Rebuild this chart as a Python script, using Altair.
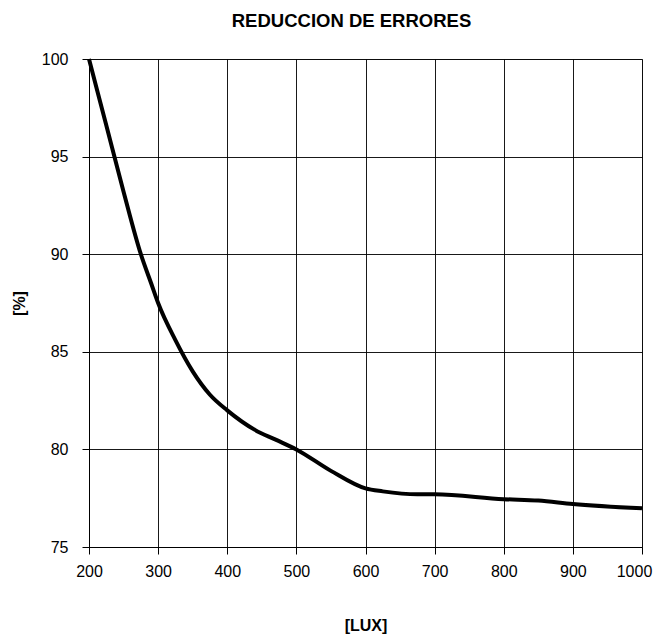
import altair as alt
import pandas as pd

lux = [200, 225, 250, 275, 290, 300, 325, 350, 375, 400, 440, 470, 500, 550, 600, 625, 675, 700, 800, 850, 900, 1000]
pct = [100, 96.6, 93.2, 90.0, 88.5, 87.5, 85.6, 84.0, 82.8, 82.0, 81.0, 80.5, 80.0, 78.9, 78.0, 77.85, 77.7, 77.7, 77.45, 77.38, 77.2, 76.98]

x_ticks = [200, 300, 400, 500, 600, 700, 800, 900, 1000]
y_ticks = [75, 80, 85, 90, 95, 100]

df = pd.DataFrame({"lux": lux, "pct": pct})

FONT = "Liberation Sans"

chart = alt.Chart(df).mark_line(color="black", strokeWidth=4, interpolate="monotone").encode(
    x=alt.X("lux:Q", scale=alt.Scale(domain=[200, 1000], nice=False),
            axis=alt.Axis(values=x_ticks, title="[LUX]", titlePadding=38, format="d",
                          labelPadding=9, tickSize=7, tickColor="black", labelFlush=False,
                          labelOffset={"condition": {"test": "datum.value == 1000", "value": -8}, "value": 0},
                          domainColor="black", gridColor="black", gridOpacity=0.9,
                          labelFontSize=16, titleFontSize=16, titleFontWeight="bold",
                          labelColor="black", titleColor="black")),
    y=alt.Y("pct:Q", scale=alt.Scale(domain=[75, 100], nice=False, zero=False),
            axis=alt.Axis(values=y_ticks, title="[%]", titlePadding=14, format="d",
                          labelPadding=14, tickSize=7, tickColor="black", labelFlush=False,
                          domainColor="black", gridColor="black", gridOpacity=0.9,
                          labelFontSize=16, titleFontSize=16, titleFontWeight="bold",
                          labelColor="black", titleColor="black")),
).properties(
    width=553, height=488,
    autosize=alt.AutoSizeParams(type="none"),
    padding={"left": 81, "top": 51, "right": 12, "bottom": 87},
    title=alt.TitleParams("REDUCCION DE ERRORES", fontSize=18.5, fontWeight="bold",
                          font=FONT, color="black", offset=21, dx=-14,
                          frame="group", anchor="middle"),
).configure(font=FONT).configure_view(stroke="#808080", strokeWidth=1)

chart.save("out.html", embed_options={"renderer": "svg", "actions": False})
